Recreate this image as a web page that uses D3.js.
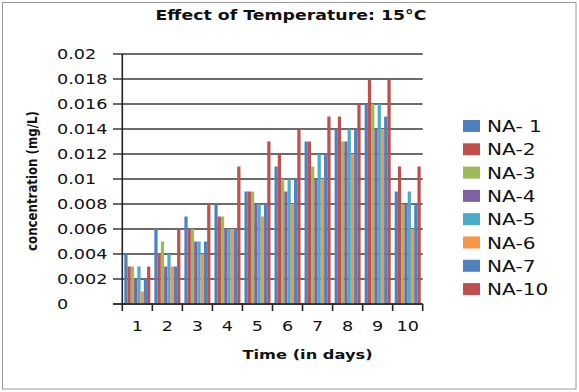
<!DOCTYPE html>
<html><head><meta charset="utf-8">
<script src="https://cdn.jsdelivr.net/npm/d3@7"></script>
<style>html,body{margin:0;padding:0;background:#fff}svg{display:block}</style>
</head><body>
<svg id="c" width="579" height="392"></svg>
<script>
const days = ["1","2","3","4","5","6","7","8","9","10"];
const seriesNames = ["NA- 1","NA-2","NA-3","NA-4","NA-5","NA-6","NA-7","NA-10"];
const NA1  = [0.004,0.006,0.007,0.008,0.009,0.011,0.013,0.014,0.016,0.009];
const NA2  = [0.003,0.004,0.006,0.007,0.009,0.012,0.013,0.015,0.018,0.011];
const NA3  = [0.003,0.005,0.006,0.007,0.009,0.010,0.011,0.013,0.016,0.008];
const NA4  = [0.002,0.003,0.005,0.006,0.008,0.009,0.010,0.013,0.014,0.008];
const NA5  = [0.003,0.004,0.005,0.006,0.008,0.010,0.012,0.014,0.016,0.009];
const NA6  = [0.001,0.003,0.004,0.006,0.007,0.008,0.010,0.012,0.014,0.006];
const NA7  = [0.002,0.003,0.005,0.006,0.008,0.010,0.012,0.014,0.015,0.008];
const NA10 = [0.003,0.006,0.008,0.011,0.013,0.014,0.015,0.016,0.018,0.011];
const yTicks = [0,0.002,0.004,0.006,0.008,0.01,0.012,0.014,0.016,0.018,0.02];
const yTickLabels = ["0","0.002","0.004","0.006","0.008","0.01","0.012","0.014","0.016","0.018","0.02"];
const colors = ["#4F81BD","#C0504D","#9BBB59","#8064A2","#4BACC6","#F79646","#4F81BD","#C0504D"];

const seriesVals = [NA1,NA2,NA3,NA4,NA5,NA6,NA7,NA10];
const svg = d3.select("#c");
const font = "DejaVu Sans, Verdana, sans-serif";
const SX = 1.26;

// outer border
svg.append("rect").attr("x",2.5).attr("y",2.5).attr("width",573.5).attr("height",386.5)
  .attr("fill","#fff").attr("stroke","#9a9a9a").attr("stroke-width",1);

const x0 = d3.scaleBand().domain(days).range([122.3,422.7]).paddingInner(0).paddingOuter(0);
const x1 = d3.scaleBand().domain(d3.range(seriesNames.length)).range([2,x0.bandwidth()-2]).padding(0);
const y = d3.scaleLinear().domain([0,0.02]).range([304,54]);

// gridlines + y ticks
const gl = svg.append("g");
gl.selectAll("line").data(yTicks).join("line")
  .attr("x1",113).attr("x2",422.7)
  .attr("y1",d=>y(d)).attr("y2",d=>y(d))
  .attr("stroke","#3a3a3a").attr("stroke-width",1.5);

// bars
const groups = svg.append("g").selectAll("g").data(days).join("g")
  .attr("transform",d=>`translate(${x0(d)},0)`);
groups.selectAll("rect").data((d,i)=>seriesVals.map((s,k)=>({k,v:s[i]}))).join("rect")
  .attr("x",d=>x1(d.k)).attr("width",x1.bandwidth())
  .attr("y",d=>y(d.v)).attr("height",d=>y(0)-y(d.v))
  .attr("fill",d=>colors[d.k]);

// axes
const xAxis = d3.axisBottom(x0).tickSize(0).tickFormat(()=>"");
const ax = svg.append("g").attr("transform","translate(0,304)").call(xAxis);
ax.select(".domain").remove();
svg.append("line").attr("x1",113).attr("x2",422.7).attr("y1",304).attr("y2",304)
  .attr("stroke","#222").attr("stroke-width",1.6);
svg.append("line").attr("x1",122.3).attr("x2",122.3).attr("y1",54).attr("y2",311)
  .attr("stroke","#222").attr("stroke-width",1.6);
const bounds = days.map(d=>x0(d)+x0.bandwidth());
svg.append("g").selectAll("line").data(bounds).join("line")
  .attr("x1",d=>d).attr("x2",d=>d).attr("y1",304).attr("y2",311)
  .attr("stroke","#222").attr("stroke-width",1.6);

// y tick labels
svg.append("g").selectAll("text").data(yTicks).join("text")
  .attr("transform",d=>`translate(57,${y(d)}) scale(${SX},1)`)
  .attr("dominant-baseline","central").attr("font-family",font).attr("font-size",14)
  .attr("fill","#111").text((d,i)=>yTickLabels[i]);

// x tick labels
svg.append("g").selectAll("text").data(days).join("text")
  .attr("transform",d=>`translate(${x0(d)+x0.bandwidth()/2},326) scale(${SX},1)`)
  .attr("text-anchor","middle").attr("dominant-baseline","central")
  .attr("font-family",font).attr("font-size",14).attr("fill","#111").text(d=>d);

// titles
svg.append("text").attr("transform",`translate(291,15.5) scale(1.24,1)`)
  .attr("text-anchor","middle").attr("dominant-baseline","central")
  .attr("font-family",font).attr("font-weight","bold").attr("font-size",14)
  .attr("fill","#111").text("Effect of Temperature: 15°C");
svg.append("text").attr("transform",`translate(307.5,354) scale(1.25,1)`)
  .attr("text-anchor","middle").attr("dominant-baseline","central")
  .attr("font-family",font).attr("font-weight","bold").attr("font-size",13)
  .attr("fill","#111").text("Time (in days)");
svg.append("text").attr("transform",`translate(32,181) rotate(-90) scale(1,1.2)`)
  .attr("text-anchor","middle").attr("dominant-baseline","central")
  .attr("font-family",font).attr("font-weight","bold").attr("font-size",11.8)
  .attr("fill","#111").text("concentration (mg/L)");

// legend
const lg = svg.append("g").selectAll("g").data(seriesNames).join("g")
  .attr("transform",(d,i)=>`translate(463,${120+i*23.3})`);
lg.append("rect").attr("width",17).attr("height",12).attr("fill",(d,i)=>colors[i]);
lg.append("text").attr("transform",`translate(24,6.5) scale(1.3,1)`)
  .attr("dominant-baseline","central").attr("font-family",font).attr("font-size",15.5)
  .attr("fill","#111").text(d=>d);
</script>
</body></html>
